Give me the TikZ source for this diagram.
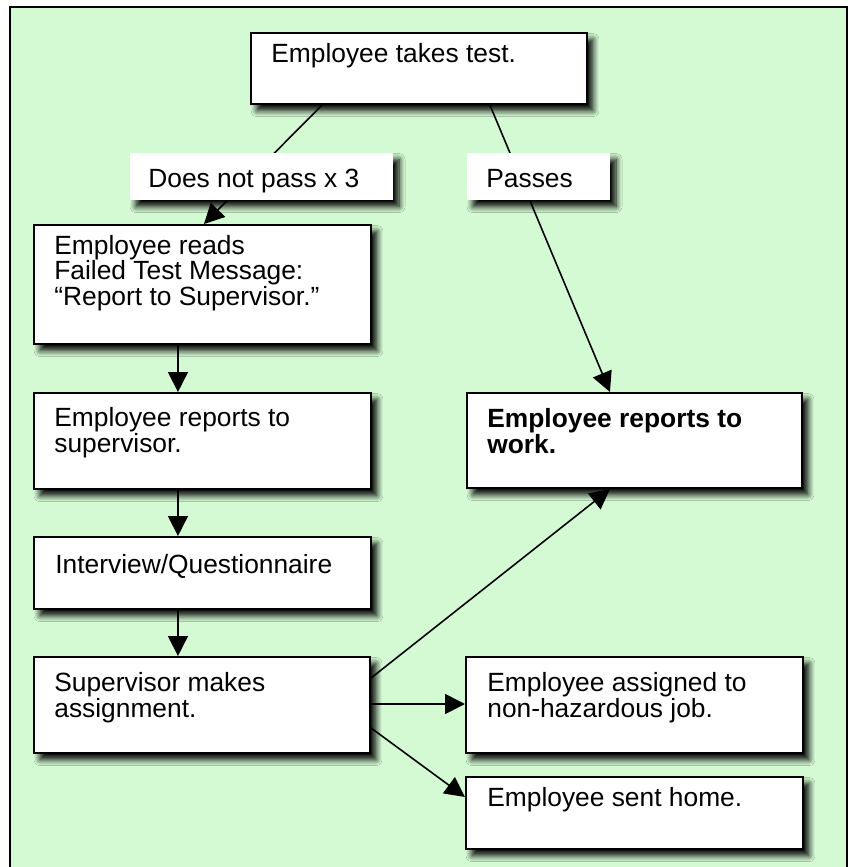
\documentclass[tikz,border=0pt]{standalone}
\usepackage{fontspec}
\setmainfont{Liberation Sans}
\usetikzlibrary{arrows.meta,shadows.blur}

\definecolor{panelgreen}{RGB}{212,250,212}

\tikzset{
  panel/.style={fill=panelgreen},
  frameline/.style={line width=1.1pt},
  card/.style={draw, fill=white, line width=1.2pt, inner sep=0pt, anchor=north west,
    blur shadow={shadow xshift=0.12cm, shadow yshift=-0.13cm,
                 shadow blur radius=0.12cm, shadow blur steps=8, shadow opacity=100}},
  caption/.style={inner sep=0pt, anchor=base west, align=left,
    font=\fontsize{15pt}{14.3pt}\selectfont},
  link/.style={line width=0.9pt},
  arrowlink/.style={link, -{Triangle[length=0.4cm, width=0.4cm]}},
}

\begin{document}
\begin{tikzpicture}[x=0.02cm, y=-0.02cm]
\useasboundingbox (0,0) rectangle (851,867);

% green panel with its frame (open at the bottom edge)
\fill[panel] (10,7) rectangle (847,870);
\draw[frameline] (10,870) -- (10,7) -- (847,7) -- (847,870);

% boxes
\node[card, minimum width=6.72cm, minimum height=1.42cm] (test) at (250,32) {};
\node[card, minimum width=6.74cm, minimum height=2.38cm] (reads) at (33,224) {};
\node[card, minimum width=6.74cm, minimum height=1.92cm] (report) at (33,392) {};
\node[card, minimum width=6.74cm, minimum height=1.44cm] (interview) at (33,536) {};
\node[card, minimum width=6.72cm, minimum height=1.92cm] (assign) at (33,656) {};
\node[card, minimum width=6.70cm, minimum height=1.90cm] (work) at (466,392) {};
\node[card, minimum width=6.74cm, minimum height=1.92cm] (safejob) at (465,656) {};
\node[card, minimum width=6.74cm, minimum height=1.44cm] (home) at (465,776) {};

% box texts (anchored at the baseline of their last line)
\node[caption] (testtxt) at (271,62) {Employee takes test.};
\node[caption] (readstxt) at (54,305) {Employee reads\\Failed Test Message:\\“Report to Supervisor.”};
\node[caption] (reporttxt) at (54,452) {Employee reports to\\supervisor.};
\node[caption] (interviewtxt) at (55,573) {Interview/Questionnaire};
\node[caption] (assigntxt) at (54,717) {Supervisor makes\\assignment.};
\node[caption, font=\fontsize{15pt}{14.3pt}\selectfont\bfseries] (worktxt) at (487,453) {Employee reports to\\work.};
\node[caption] (safejobtxt) at (487,717) {Employee assigned to\\non-hazardous job.};
\node[caption] (hometxt) at (487,806) {Employee sent home.};

% connectors
\draw[arrowlink] ([xshift=1.44cm]test.south west) -- ([xshift=3.42cm]reads.north west);
\draw[arrowlink] ([xshift=4.80cm]test.south west) -- ([xshift=2.88cm]work.north west);
\draw[arrowlink] ([xshift=2.90cm]reads.south west) -- ([xshift=2.90cm]report.north west);
\draw[arrowlink] ([xshift=2.90cm]report.south west) -- ([xshift=2.90cm]interview.north west);
\draw[arrowlink] ([xshift=2.90cm]interview.south west) -- ([xshift=2.90cm]assign.north west);
\draw[arrowlink] ([yshift=-0.44cm]assign.north east) -- ([xshift=2.88cm]work.south west);
\draw[arrowlink] ([yshift=-0.96cm]assign.north east) -- ([yshift=-0.96cm]safejob.north west);
\draw[arrowlink] ([yshift=-1.44cm]assign.north east) -- ([yshift=-0.42cm]home.north west);

% branch labels laid over the connectors
\node[card, draw=none, minimum width=5.26cm, minimum height=0.94cm] (failtag) at (129,152) {};
\node[caption] (failtxt) at (148,187) {Does not pass x 3};
\node[card, draw=none, minimum width=2.86cm, minimum height=0.94cm] (passtag) at (466,152) {};
\node[caption] (passtxt) at (486,187) {Passes};
\end{tikzpicture}
\end{document}
